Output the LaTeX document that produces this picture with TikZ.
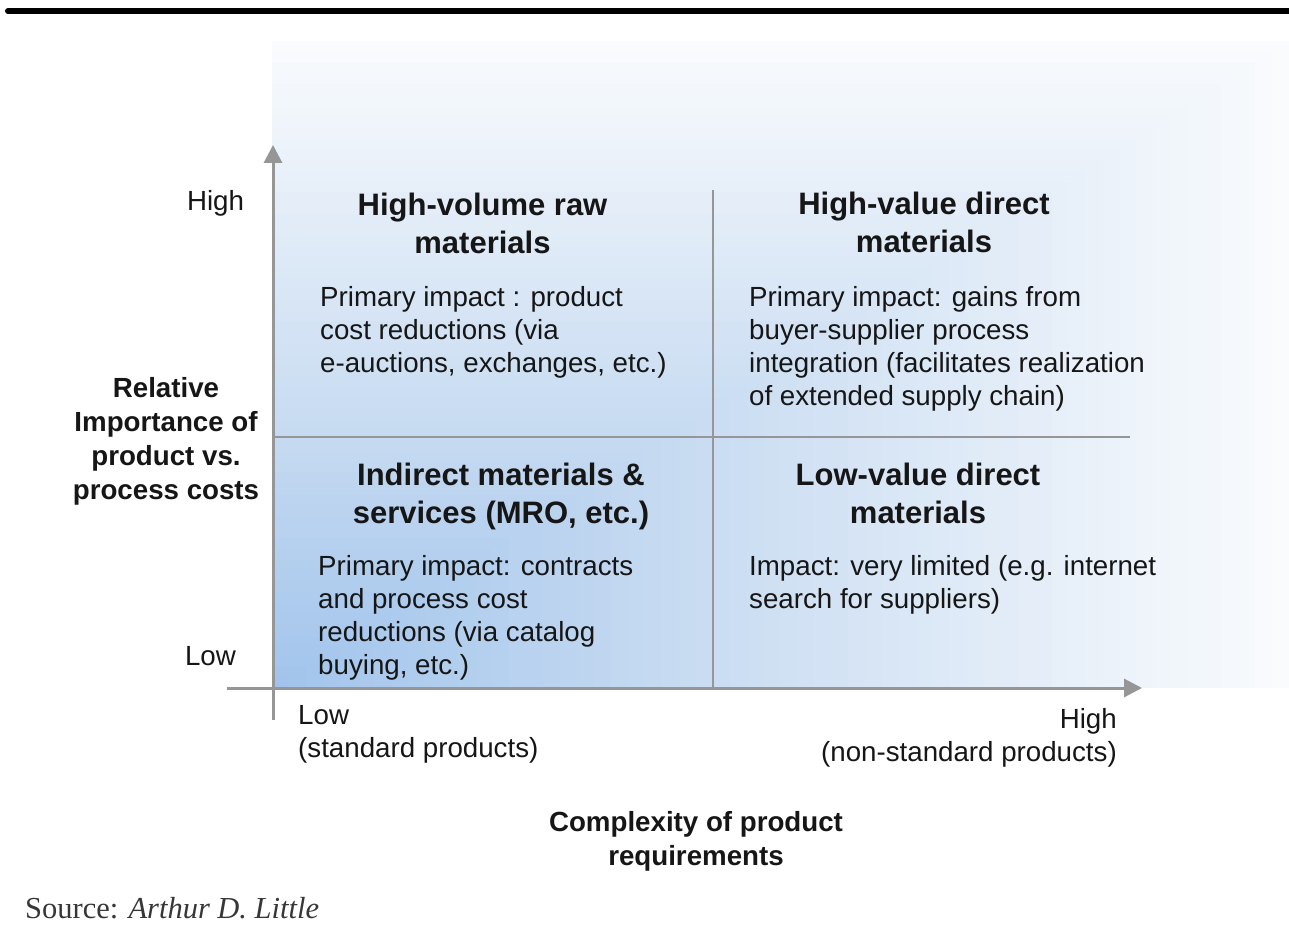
\documentclass[tikz,border=0pt]{standalone}
\usepackage{fontspec}
\setmainfont{Liberation Sans}
\newfontfamily\srcfont{Liberation Serif}
\usetikzlibrary{arrows.meta}
\definecolor{axisgray}{RGB}{150,150,150}
\definecolor{cstart}{RGB}{160,195,236}
\definecolor{cmid}{RGB}{198,218,241}
\definecolor{cend}{RGB}{249,251,253}
\definecolor{txt}{RGB}{22,22,22}
\definecolor{srcgray}{RGB}{55,55,55}
\begin{document}
\begin{tikzpicture}[x=1pt,y=-1pt,
  axisline/.style={draw=axisgray, line width=3pt, -{Triangle[length=18pt,width=18pt]}},
  divider/.style={draw=axisgray, line width=2.5pt},
  qtitle/.style={font=\bfseries\fontsize{31}{37.5}\selectfont, align=center, anchor=north, inner sep=0pt, text=txt},
  qbody/.style={font=\fontsize{27.7}{33}\selectfont, align=left, anchor=north west, inner sep=0pt, text=txt},
  axlabel/.style={font=\fontsize{27.7}{33}\selectfont, inner sep=0pt, text=txt},
  axtitle/.style={font=\bfseries\fontsize{27.7}{34}\selectfont, align=center, anchor=north, inner sep=0pt, text=txt}]
\useasboundingbox (0,0) rectangle (1289,933);
\fill[white] (0,0) rectangle (1289,933);
% top rule
\draw[line width=6pt, line cap=round] (8,11) -- (1300,11);
% background gradient: nested rectangles growing from bottom-left corner
\foreach \k in {60,59,...,1}{
  \pgfmathsetmacro{\t}{\k/60}
  \ifnum\k>24
    \pgfmathtruncatemacro{\p}{(60-\k)/36*100}
    \colorlet{bgc}{cmid!\p!cend}
  \else
    \pgfmathtruncatemacro{\p}{(24-\k)/24*100}
    \colorlet{bgc}{cstart!\p!cmid}
  \fi
  \fill[bgc] (272,688) rectangle ({272+1017*\t},{688-647*\t});
}
% dividers
\coordinate (vdivT) at (713,190);
\coordinate (vdivB) at (713,687);
\coordinate (hdivL) at (273,437);
\coordinate (hdivR) at (1130,437);
\draw[divider, line width=2pt] (vdivT) -- (vdivB);
\draw[divider] (hdivL) -- (hdivR);
% axes
\coordinate (yB) at (273,720);
\coordinate (yT) at (273,145);
\coordinate (xL) at (227,688);
\coordinate (xR) at (1142,688);
\draw[axisline] (yB) -- (yT);
\draw[axisline] (xL) -- (xR);
% quadrant titles
\node[qtitle] (tTL) at (482.5,193) {High-volume raw\\materials};
\node[qtitle] (tTR) at (924,192) {High-value direct\\materials};
\node[qtitle] (tBL) at (501,463) {Indirect materials \&\\services (MRO, etc.)};
\node[qtitle] (tBR) at (918,463) {Low-value direct\\materials};
% quadrant bodies
\node[qbody] (bTL) at (320,286) {Primary impact : product\\cost reductions (via\\e-auctions, exchanges, etc.)};
\node[qbody] (bTR) at (749,286) {Primary impact: gains from\\buyer-supplier process\\integration (facilitates realization\\of extended supply chain)};
\node[qbody] (bBL) at (318,555) {Primary impact: contracts\\and process cost\\reductions (via catalog\\buying, etc.)};
\node[qbody] (bBR) at (749,555) {Impact: very limited (e.g. internet\\search for suppliers)};
% axis labels
\node[axlabel, anchor=base] (yHigh) at (215.5,211) {High};
\node[axlabel, anchor=base] (yLow) at (210.5,665) {Low};
\node[axtitle] (yTitle) at (166,377) {Relative\\Importance of\\product vs.\\process costs};
\node[axlabel, align=left, anchor=north west] (xLow) at (298,705) {Low\\(standard products)};
\node[axlabel, align=right, anchor=north east] (xHigh) at (1117,708) {High\\(non-standard products)};
\node[axtitle] (xTitle) at (696,811) {Complexity of product\\requirements};
% source
\node[anchor=west, inner sep=0pt, text=srcgray, font=\srcfont\fontsize{30.5}{34}\selectfont] (src) at (25,908) {Source: \textit{Arthur D. Little}};
\end{tikzpicture}
\end{document}
